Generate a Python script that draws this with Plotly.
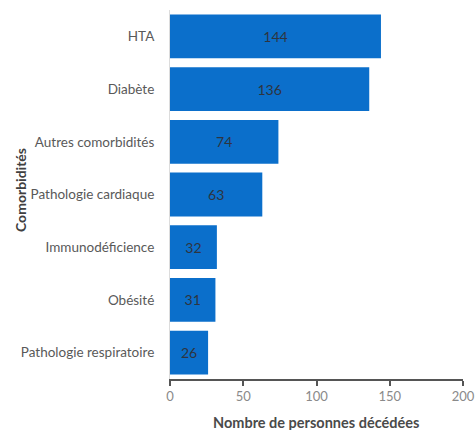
import plotly.graph_objects as go

# Comorbidities among deceased persons (top to bottom)
categories = [
    "HTA",
    "Diabète",
    "Autres comorbidités",
    "Pathologie cardiaque",
    "Immunodéficience",
    "Obésité",
    "Pathologie respiratoire",
]
deaths = [144, 136, 74, 63, 32, 31, 26]
x_ticks = [0, 50, 100, 150, 200]

FONT = "Lato, 'Open Sans', sans-serif"

L, R, T, B = 170, 13, 10, 51
W, H = 476, 430
plot_w = W - L - R
plot_h = H - T - B

fig = go.Figure(
    go.Bar(
        x=deaths,
        y=categories,
        orientation="h",
        marker=dict(color="#0B6FCB", line=dict(width=0)),
        text=[str(v) for v in deaths],
        textposition="inside",
        insidetextanchor="middle",
        textfont=dict(family=FONT, size=14, color="#2e3440"),
        width=0.83,
    )
)

fig.update_layout(
    template="none",
    width=W,
    height=H,
    margin=dict(l=L, r=R, t=T, b=B, pad=0),
    paper_bgcolor="white",
    plot_bgcolor="white",
    showlegend=False,
    font=dict(family=FONT, size=12, color="#595959"),
    xaxis=dict(
        range=[0, 200],
        tickvals=x_ticks,
        ticktext=[str(t) for t in x_ticks],
        showgrid=False,
        zeroline=False,
        showline=True,
        linecolor="#555555",
        linewidth=1.5,
        ticks="outside",
        ticklen=5,
        tickwidth=1.5,
        tickcolor="#555555",
        tickfont=dict(family=FONT, size=13, color="#8a8a8a"),
        automargin=False,
    ),
    yaxis=dict(
        categoryorder="array",
        categoryarray=categories[::-1],
        showgrid=False,
        zeroline=False,
        showline=True,
        linecolor="#dcdcdc",
        linewidth=1,
        ticks="",
        ticklabelstandoff=12,
        tickfont=dict(family=FONT, size=13.5, color="#595959"),
        automargin=False,
    ),
    annotations=[
        dict(
            text="<b>Nombre de personnes décédées</b>",
            xref="paper", yref="paper",
            x=(316 - L) / plot_w, y=-(422 - (H - B)) / plot_h,
            xanchor="center", yanchor="middle",
            showarrow=False,
            font=dict(family=FONT, size=14.5, color="#4a4a4a"),
        ),
        dict(
            text="<b>Comorbidités</b>",
            xref="paper", yref="paper",
            x=-(L - 20) / plot_w, y=1 - (190 - T) / plot_h,
            xanchor="center", yanchor="middle",
            textangle=-90,
            showarrow=False,
            font=dict(family=FONT, size=14, color="#404040"),
        ),
    ],
)

fig.write_html("out.html")
